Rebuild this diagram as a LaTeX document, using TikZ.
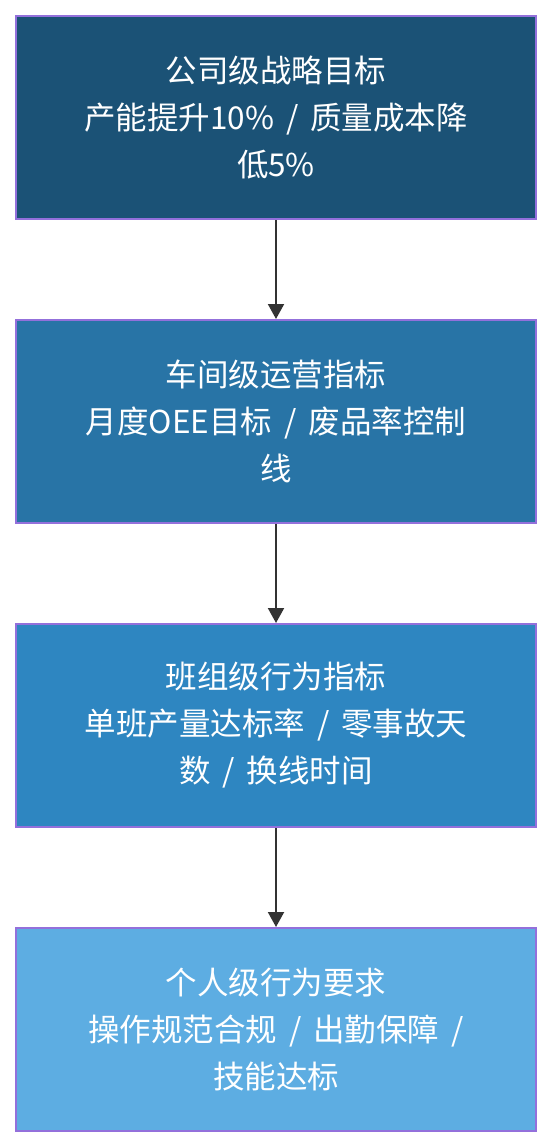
\documentclass[tikz,border=0pt]{standalone}
\usepackage{fontspec}
\newfontfamily\cjk{Noto Sans CJK SC}
\usetikzlibrary{arrows.meta}
\definecolor{lvlone}{HTML}{1B5276}
\definecolor{lvltwo}{HTML}{2874A6}
\definecolor{lvlthree}{HTML}{2E86C1}
\definecolor{lvlfour}{HTML}{5DADE2}
\definecolor{edgepurple}{HTML}{9370DB}
\definecolor{arrowgray}{HTML}{333333}
\newcommand{\slashsep}{\hspace{0.38em}/\hspace{0.38em}}
\begin{document}
\begin{tikzpicture}[x=1pt,y=1pt,node distance=304pt]
\tikzstyle{levelbox} = [rectangle, minimum width=520pt, minimum height=203pt, inner sep=0pt, align=center, text=white, draw=edgepurple, line width=2pt, font=\cjk\fontsize{31.5}{47}\selectfont]
\tikzstyle{flow} = [-{Triangle[length=15pt,width=16pt]}, line width=2pt, draw=arrowgray]
\useasboundingbox (0,0) rectangle (552,-1148);
\node (corp)[levelbox, fill=lvlone] at (276,-117.5) {公司级战略目标\\产能提升10\%\slashsep 质量成本降\\低5\%};
\node (shop)[levelbox, fill=lvltwo, below of=corp] {车间级运营指标\\月度OEE目标\slashsep 废品率控制\\线};
\node (team)[levelbox, fill=lvlthree, below of=shop] {班组级行为指标\\单班产量达标率\slashsep 零事故天\\数\slashsep 换线时间};
\node (person)[levelbox, fill=lvlfour, below of=team] {个人级行为要求\\操作规范合规\slashsep 出勤保障\slashsep\\技能达标};
\draw [flow] (corp) -- (shop);
\draw [flow] (shop) -- (team);
\draw [flow] (team) -- (person);
\end{tikzpicture}
\end{document}
